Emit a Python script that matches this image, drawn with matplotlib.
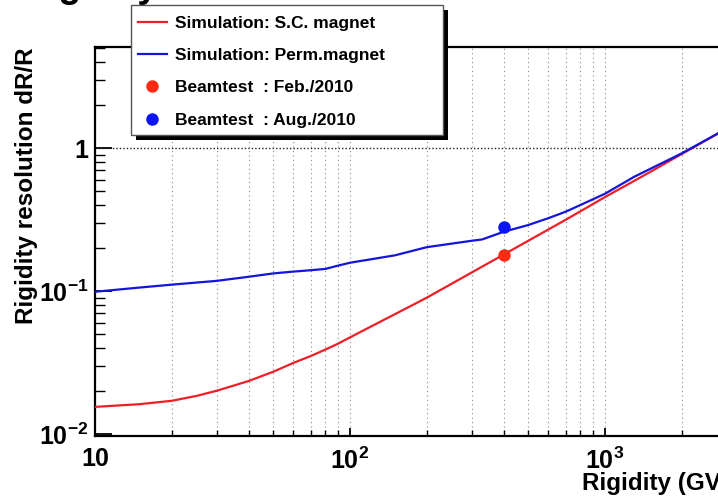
import matplotlib
matplotlib.use("Agg")
import matplotlib.pyplot as plt
from matplotlib.patches import Rectangle
from matplotlib.ticker import FixedLocator, FixedFormatter, LogLocator, NullFormatter

plt.rcParams['font.family'] = ['Liberation Sans', 'DejaVu Sans']
plt.rcParams['font.weight'] = 'bold'
plt.rcParams['mathtext.fontset'] = 'custom'
plt.rcParams['mathtext.rm'] = 'Liberation Sans:bold'
plt.rcParams['mathtext.it'] = 'Liberation Sans:bold'
plt.rcParams['mathtext.bf'] = 'Liberation Sans:bold'

# Simulated rigidity resolution, superconducting magnet
rig_sc = [10, 15, 20, 25, 30, 40, 50, 60, 70, 80, 90, 100, 150, 200, 300,
          400, 500, 700, 1000, 1500, 2000, 3000]
res_sc = [0.0155, 0.0162, 0.0171, 0.0185, 0.0201, 0.0235, 0.0273, 0.0315,
          0.0351, 0.039, 0.043, 0.0475, 0.069, 0.090, 0.135, 0.18, 0.225,
          0.315, 0.455, 0.68, 0.91, 1.37]

# Simulated rigidity resolution, permanent magnet
rig_pm = [10, 15, 20, 30, 40, 50, 60, 70, 80, 90, 100, 150, 200, 300, 330,
          400, 500, 600, 700, 800, 1000, 1300, 2000, 3000]
res_pm = [0.099, 0.106, 0.111, 0.118, 0.126, 0.133, 0.137, 0.140, 0.143,
          0.151, 0.158, 0.178, 0.203, 0.225, 0.230, 0.26, 0.29, 0.324, 0.359,
          0.40, 0.48, 0.63, 0.92, 1.37]

# Beam test measurements
beam_feb = ([400], [0.18])
beam_aug = ([400], [0.28])

W, H = 718, 496
fig = plt.figure(figsize=(W / 100, H / 100), dpi=100)

def px(x0, y0, x1, y1):
    # pixel box (top-left origin) -> figure fraction rect
    return [x0 / W, 1 - y1 / H, (x1 - x0) / W, (y1 - y0) / H]

xmin, xmax = 10, 5000
ax = fig.add_axes(px(95, 47, 95 + 255 * 2.699, 436))
ax.set_xscale('log')
ax.set_yscale('log')
ax.set_xlim(xmin, xmax)
ax.set_ylim(0.0097, 5.1)

red_line, = ax.plot(rig_sc, res_sc, color='#ee1f26', lw=1.6,
                    label='Simulation: S.C. magnet', zorder=3)
blue_line, = ax.plot(rig_pm, res_pm, color='#1414dc', lw=1.6,
                     label='Simulation: Perm.magnet', zorder=3)
red_pt, = ax.plot(*beam_feb, 'o', color='#ff2a12', ms=9, mec='none',
                  label='Beamtest  : Feb./2010', zorder=4)
blue_pt, = ax.plot(*beam_aug, 'o', color='#0a14f5', ms=9, mec='none',
                   label='Beamtest  : Aug./2010', zorder=4)

# grid: dotted verticals at every x tick, one dotted line at dR/R = 1
ax.xaxis.set_major_locator(FixedLocator([10, 100, 1000]))
ax.xaxis.set_major_formatter(FixedFormatter(['10', '$10^{2}$', '$10^{3}$']))
ax.xaxis.set_minor_locator(LogLocator(base=10, subs=range(2, 10)))
ax.xaxis.set_minor_formatter(NullFormatter())
ax.grid(which='both', axis='x', color='#8a8a8a', lw=0.8,
        linestyle=(0, (1, 3)))
ax.axhline(1, color='#222222', lw=1.0, linestyle=(0, (1, 1.5)), zorder=2)

ax.yaxis.set_major_locator(FixedLocator([0.01, 0.1, 1]))
ax.yaxis.set_major_formatter(FixedFormatter(['$10^{-2}$', '$10^{-1}$', '1']))
ax.yaxis.set_minor_locator(LogLocator(base=10, subs=range(2, 10)))
ax.yaxis.set_minor_formatter(NullFormatter())

ax.tick_params(axis='x', which='major', direction='in', length=6, width=1.3,
               labelsize=18, pad=8, top=False)
ax.tick_params(axis='x', which='minor', direction='in', length=4, width=1.0,
               top=False)
ax.tick_params(axis='y', which='major', direction='in', length=12, width=1.3,
               labelsize=18, pad=5, right=False)
ax.tick_params(axis='y', which='minor', direction='in', length=7, width=1.0,
               right=False)
for side in ['left', 'bottom', 'top']:
    ax.spines[side].set_linewidth(1.6)
ax.spines['right'].set_visible(False)

fig.text(27 / W, 1 - 47 / H, 'Rigidity resolution dR/R', rotation=90,
         ha='center', va='top', fontsize=17.5, fontweight='bold')
fig.text(582 / W, 1 - 490 / H, 'Rigidity (GV)', ha='left', va='baseline',
         fontsize=17.5, fontweight='bold')
fig.text(22 / W, 1 + 3 / H, 'Rigidity', ha='left', va='baseline',
         fontsize=27, fontweight='bold')

# legend box with a solid drop shadow
fig.patches.append(Rectangle(px(136, 10, 448, 140)[:2], 312 / W, 130 / H,
                             transform=fig.transFigure, facecolor='black',
                             edgecolor='none', zorder=4))
fig.patches.append(Rectangle(px(131, 5, 443, 135)[:2], 312 / W, 130 / H,
                             transform=fig.transFigure, facecolor='white',
                             edgecolor='#555555', lw=1.0, zorder=4.5))
fig.legend(handles=[red_line, blue_line, red_pt, blue_pt], loc='upper left',
           bbox_to_anchor=(131 / W, 1 - 9 / H), frameon=False,
           fontsize=12.5, borderaxespad=0, borderpad=0.4, labelspacing=0.98,
           handlelength=1.67, handletextpad=0.46, numpoints=1)

fig.savefig('out.png', dpi=100)
